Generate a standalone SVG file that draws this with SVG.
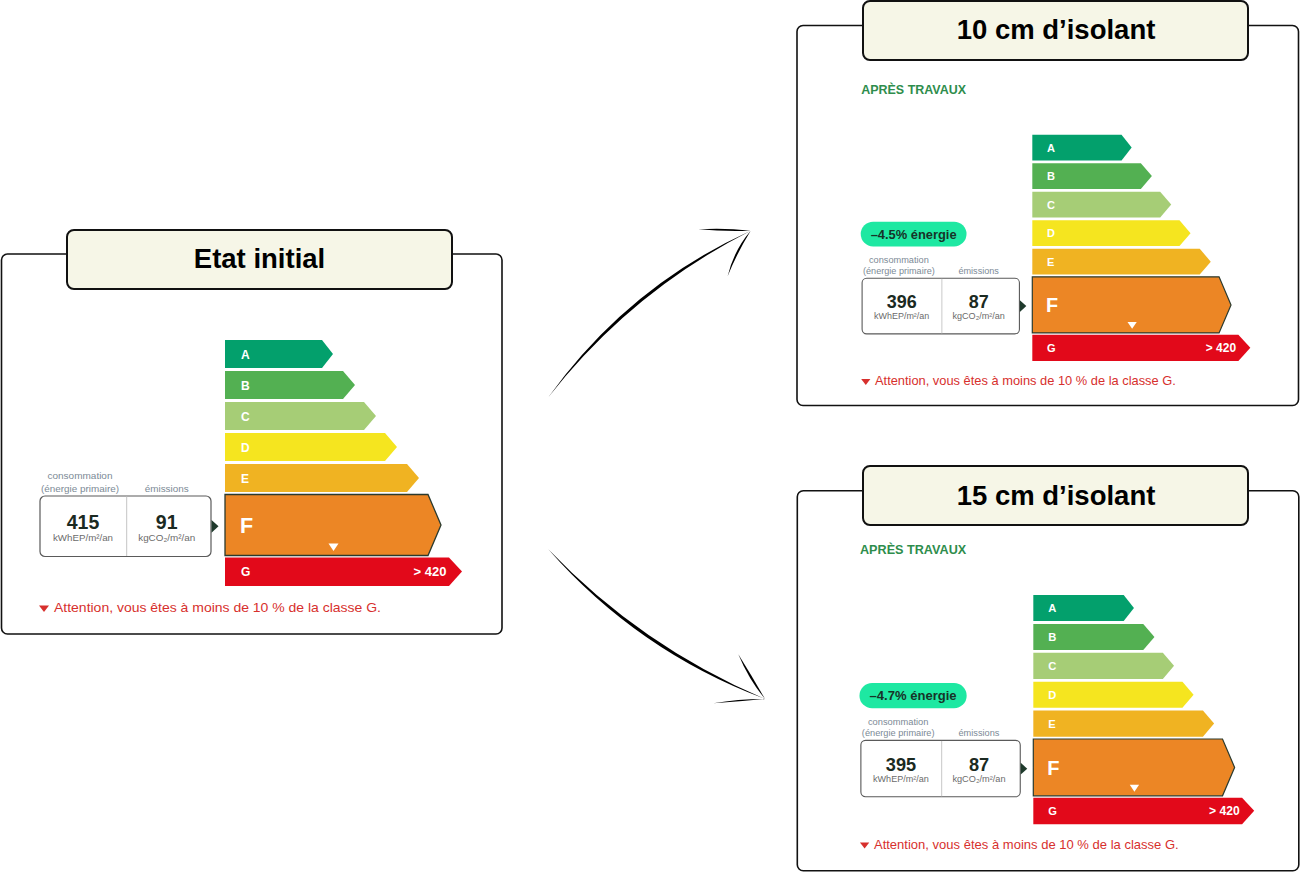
<svg xmlns="http://www.w3.org/2000/svg" xmlns:xlink="http://www.w3.org/1999/xlink" width="1300" height="874" viewBox="0 0 1300 874">
<style>
text{font-family:"Liberation Sans",Arial,sans-serif}
.outer{fill:#fff;stroke:#111;stroke-width:1.6}
.title{fill:#f6f6e7;stroke:#111;stroke-width:2}
.ttxt{font-size:27.5px;font-weight:bold;fill:#000;text-anchor:middle}
.lt{font-size:12px;font-weight:bold;fill:#fff}
.lf{font-size:21.5px;font-weight:bold;fill:#fff}
.gv{font-size:13px;font-weight:bold;fill:#fff;text-anchor:end}
.box{fill:#fff;stroke:#5a5a5a;stroke-width:1.2}
.div{stroke:#c4c4c4;stroke-width:1}
.val{font-size:19.5px;font-weight:bold;fill:#1b2a22;text-anchor:middle}
.unit{font-size:9.2px;fill:#6b6b6b;text-anchor:middle}
.hdr{font-size:9.8px;fill:#7c8a96;text-anchor:middle}
.warn{font-size:13px;fill:#d7302d}
.apres{font-size:13.2px;font-weight:bold;fill:#2e8d4c}
.badge{fill:#1ee8a2}
.btxt{font-size:14px;font-weight:bold;fill:#173328;text-anchor:middle}
.ink{fill:#000}
</style>
<defs>
<g id="bars">
<path d="M0,0 H97 L108,14 L97,28 H0 Z" fill="#03a06c"/>
<path d="M0,31 H118 L130,45 L118,59 H0 Z" fill="#53b052"/>
<path d="M0,62 H139 L151,76 L139,90 H0 Z" fill="#a6cd76"/>
<path d="M0,93 H160 L172,107 L160,121 H0 Z" fill="#f5e51f"/>
<path d="M0,124 H182 L194,138 L182,152 H0 Z" fill="#f0b322"/>
<path d="M0,154.5 H203 L216,185 L203,215.5 H0 Z" fill="#ec8625" stroke="#2b3a2e" stroke-width="1.3"/>
<path d="M0,217.5 H224 L237,231.5 L224,246 H0 Z" fill="#e2091a"/>
<path d="M103.5,203.5 L113.5,203.5 L108.5,211 Z" fill="#fff"/>
<rect class="box" x="-185" y="156" width="171" height="60.5" rx="5"/>
<line class="div" x1="-98.3" y1="156.6" x2="-98.3" y2="216"/>
<path d="M-13.5,180 L-6.5,186.3 L-13.5,192.7 Z" fill="#1f3a2c"/>
<path d="M-186,265.5 L-176,265.5 L-181,272 Z" fill="#d7302d"/>
</g>
</defs>

<g id="connectors">
<g id="arrow-top">
<path class="ink" d="M548.3,397.3 Q627.2,286.9 750.7,230.7 Q631,291.6 548.3,397.3 Z"/>
<path class="ink" d="M750.7,230.7 Q724,227.6 698.3,229.3 Q724,231.6 750.7,230.7 Z"/>
<path class="ink" d="M750.7,230.7 Q734,250 727.7,276 Q737.5,252 750.7,230.7 Z"/>
</g>
<g id="arrow-bottom">
<path class="ink" d="M548.3,549.3 Q641.3,646.4 765,699 Q637.9,651.4 548.3,549.3 Z"/>
<path class="ink" d="M765,699 Q749,680 738.3,654.3 Q752.5,677 765,699 Z"/>
<path class="ink" d="M765,699 Q738,699 713.3,703.3 Q738,701.8 765,699 Z"/>
</g>
</g>

<g id="etat-initial">
<rect class="outer" x="1.5" y="254" width="500.5" height="380" rx="6"/>
<rect class="title" x="67" y="230" width="385" height="59" rx="7"/>
<text class="ttxt" x="259.5" y="267.5">Etat initial</text>
<g transform="translate(225,340)">
<use xlink:href="#bars" href="#bars"/>
<text class="lt" x="16" y="18.5">A</text>
<text class="lt" x="16" y="49.5">B</text>
<text class="lt" x="16" y="80.5">C</text>
<text class="lt" x="16" y="111.5">D</text>
<text class="lt" x="16" y="142.5">E</text>
<text class="lf" x="15" y="193">F</text>
<text class="lt" x="16" y="236">G</text>
<text class="gv" x="221.5" y="236">&gt; 420</text>
<text class="hdr" x="-145" y="139.3" textLength="65" lengthAdjust="spacingAndGlyphs">consommation</text>
<text class="hdr" x="-145" y="151.5" textLength="78" lengthAdjust="spacingAndGlyphs">(énergie primaire)</text>
<text class="hdr" x="-58.3" y="151.5" textLength="44" lengthAdjust="spacingAndGlyphs">émissions</text>
<text class="val" x="-142" y="188.5">415</text>
<text class="unit" x="-142" y="200.7" textLength="60" lengthAdjust="spacingAndGlyphs">kWhEP/m²/an</text>
<text class="val" x="-58.3" y="188.5">91</text>
<text class="unit" x="-58.3" y="200.7" textLength="57" lengthAdjust="spacingAndGlyphs">kgCO₂/m²/an</text>
<text class="warn" x="-171" y="272" textLength="327" lengthAdjust="spacingAndGlyphs">Attention, vous êtes à moins de 10 % de la classe G.</text>
</g>
</g>

<g id="isolant-10cm">
<rect class="outer" x="797" y="25.5" width="501.5" height="380" rx="6"/>
<rect class="title" x="863" y="1" width="385" height="59" rx="7"/>
<text class="ttxt" x="1056" y="38.5">10 cm d’isolant</text>
<g transform="translate(1032.3,134.7) scale(0.92)">
<use xlink:href="#bars" href="#bars"/>
<text class="apres" x="-186" y="-44" textLength="114" lengthAdjust="spacingAndGlyphs">APRÈS TRAVAUX</text>
<rect class="badge" x="-186.5" y="94.5" width="115" height="27" rx="13.5"/>
<text class="btxt" x="-129" y="113">–4.5% énergie</text>
<text class="lt" x="16" y="18.5">A</text>
<text class="lt" x="16" y="49.5">B</text>
<text class="lt" x="16" y="80.5">C</text>
<text class="lt" x="16" y="111.5">D</text>
<text class="lt" x="16" y="142.5">E</text>
<text class="lf" x="15" y="193">F</text>
<text class="lt" x="16" y="236">G</text>
<text class="gv" x="221.5" y="236">&gt; 420</text>
<text class="hdr" x="-145" y="139.3" textLength="65" lengthAdjust="spacingAndGlyphs">consommation</text>
<text class="hdr" x="-145" y="151.5" textLength="78" lengthAdjust="spacingAndGlyphs">(énergie primaire)</text>
<text class="hdr" x="-58.3" y="151.5" textLength="44" lengthAdjust="spacingAndGlyphs">émissions</text>
<text class="val" x="-142" y="188.5">396</text>
<text class="unit" x="-142" y="200.7" textLength="60" lengthAdjust="spacingAndGlyphs">kWhEP/m²/an</text>
<text class="val" x="-58.3" y="188.5">87</text>
<text class="unit" x="-58.3" y="200.7" textLength="57" lengthAdjust="spacingAndGlyphs">kgCO₂/m²/an</text>
<text class="warn" x="-171" y="272" textLength="327" lengthAdjust="spacingAndGlyphs">Attention, vous êtes à moins de 10 % de la classe G.</text>
</g>
</g>

<g id="isolant-15cm">
<rect class="outer" x="797.3" y="490.7" width="501.5" height="380" rx="6"/>
<rect class="title" x="863" y="466" width="385" height="59" rx="7"/>
<text class="ttxt" x="1056" y="505">15 cm d’isolant</text>
<g transform="translate(1033.3,595) scale(0.932)">
<use xlink:href="#bars" href="#bars"/>
<text class="apres" x="-186" y="-44" textLength="114" lengthAdjust="spacingAndGlyphs">APRÈS TRAVAUX</text>
<rect class="badge" x="-186.5" y="94.5" width="115" height="27" rx="13.5"/>
<text class="btxt" x="-129" y="113">–4.7% énergie</text>
<text class="lt" x="16" y="18.5">A</text>
<text class="lt" x="16" y="49.5">B</text>
<text class="lt" x="16" y="80.5">C</text>
<text class="lt" x="16" y="111.5">D</text>
<text class="lt" x="16" y="142.5">E</text>
<text class="lf" x="15" y="193">F</text>
<text class="lt" x="16" y="236">G</text>
<text class="gv" x="221.5" y="236">&gt; 420</text>
<text class="hdr" x="-145" y="139.3" textLength="65" lengthAdjust="spacingAndGlyphs">consommation</text>
<text class="hdr" x="-145" y="151.5" textLength="78" lengthAdjust="spacingAndGlyphs">(énergie primaire)</text>
<text class="hdr" x="-58.3" y="151.5" textLength="44" lengthAdjust="spacingAndGlyphs">émissions</text>
<text class="val" x="-142" y="188.5">395</text>
<text class="unit" x="-142" y="200.7" textLength="60" lengthAdjust="spacingAndGlyphs">kWhEP/m²/an</text>
<text class="val" x="-58.3" y="188.5">87</text>
<text class="unit" x="-58.3" y="200.7" textLength="57" lengthAdjust="spacingAndGlyphs">kgCO₂/m²/an</text>
<text class="warn" x="-171" y="272" textLength="327" lengthAdjust="spacingAndGlyphs">Attention, vous êtes à moins de 10 % de la classe G.</text>
</g>
</g>
</svg>
